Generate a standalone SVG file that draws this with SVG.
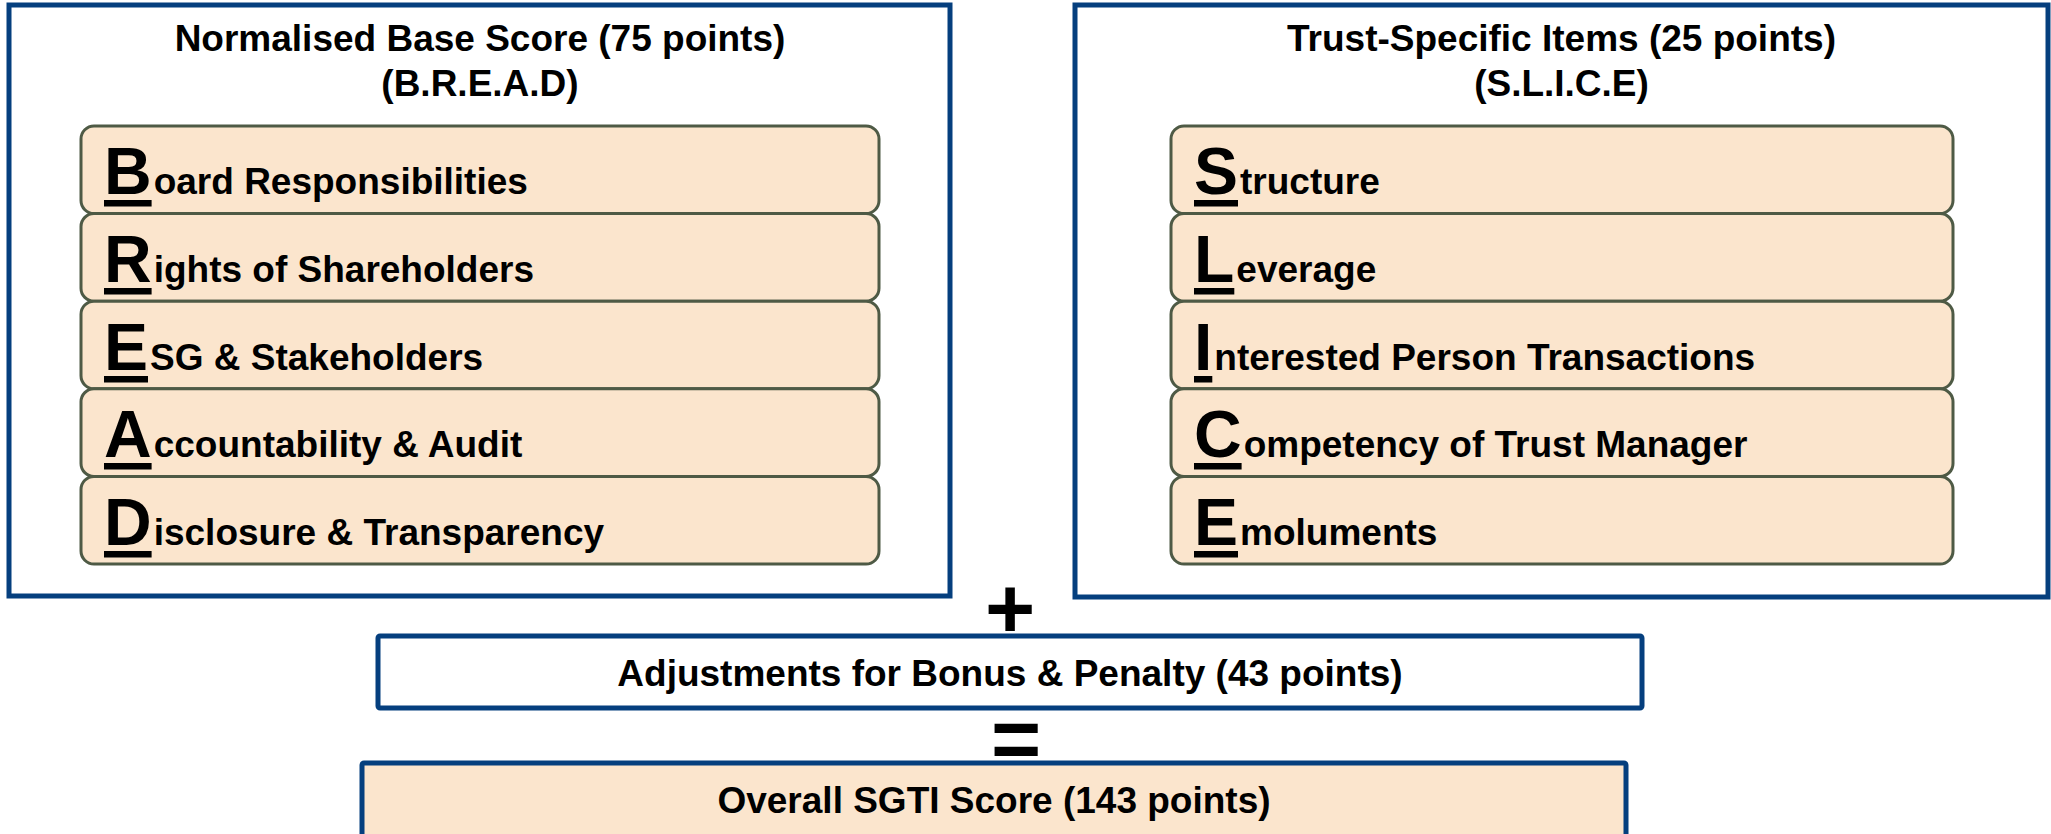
<svg xmlns="http://www.w3.org/2000/svg" width="2051" height="834" viewBox="0 0 2051 834">
<style>
.frame{fill:#ffffff;stroke:#053F7E;stroke-width:5}
.row{fill:#FBE5CD;stroke:#4E5A45;stroke-width:3}
.t{font-family:"Liberation Sans",Arial,sans-serif;font-weight:bold;fill:#000000}
.title{font-size:37px;text-anchor:middle}
.item{font-size:37px}
.big{font-size:66px}
.ul{fill:#000000}
.op{font-family:"Liberation Sans",Arial,sans-serif;font-weight:bold;font-size:86px;text-anchor:middle;fill:#000000}
</style>
<rect width="2051" height="834" fill="#ffffff"/>

<g id="bread">
  <rect class="frame" x="9" y="5" width="941" height="591"/>
  <text class="t title" x="480" y="51">Normalised Base Score (75 points)</text>
  <text class="t title" x="480" y="96">(B.R.E.A.D)</text>
</g>
<g id="bread-b">
  <rect class="row" x="81" y="126" width="798" height="87.6" rx="13"/>
  <text class="t" x="104" y="194"><tspan class="big">B</tspan><tspan class="item" dx="2">oard Responsibilities</tspan></text>
  <rect class="ul" x="104" y="200" width="47.6" height="6.5"/>
</g>
<g id="bread-r">
  <rect class="row" x="81" y="213.6" width="798" height="87.6" rx="13"/>
  <text class="t" x="104" y="282"><tspan class="big">R</tspan><tspan class="item" dx="2">ights of Shareholders</tspan></text>
  <rect class="ul" x="104" y="288" width="47.6" height="6.5"/>
</g>
<g id="bread-e">
  <rect class="row" x="81" y="301.2" width="798" height="87.6" rx="13"/>
  <text class="t" x="104" y="370"><tspan class="big">E</tspan><tspan class="item" dx="2">SG &amp; Stakeholders</tspan></text>
  <rect class="ul" x="104" y="376" width="44" height="6.5"/>
</g>
<g id="bread-a">
  <rect class="row" x="81" y="388.8" width="798" height="87.6" rx="13"/>
  <text class="t" x="104" y="457"><tspan class="big">A</tspan><tspan class="item" dx="2">ccountability &amp; Audit</tspan></text>
  <rect class="ul" x="104" y="463" width="47.6" height="6.5"/>
</g>
<g id="bread-d">
  <rect class="row" x="81" y="476.4" width="798" height="87.6" rx="13"/>
  <text class="t" x="104" y="545"><tspan class="big">D</tspan><tspan class="item" dx="2">isclosure &amp; Transparency</tspan></text>
  <rect class="ul" x="104" y="551" width="47.6" height="6.5"/>
</g>

<g id="slice">
  <rect class="frame" x="1075" y="5" width="973" height="592"/>
  <text class="t title" x="1561.5" y="51">Trust-Specific Items (25 points)</text>
  <text class="t title" x="1561.5" y="96">(S.L.I.C.E)</text>
</g>
<g id="slice-s">
  <rect class="row" x="1171" y="126" width="782" height="87.6" rx="13"/>
  <text class="t" x="1194" y="194"><tspan class="big">S</tspan><tspan class="item" dx="2">tructure</tspan></text>
  <rect class="ul" x="1194" y="200" width="44" height="6.5"/>
</g>
<g id="slice-l">
  <rect class="row" x="1171" y="213.6" width="782" height="87.6" rx="13"/>
  <text class="t" x="1194" y="282"><tspan class="big">L</tspan><tspan class="item" dx="2">everage</tspan></text>
  <rect class="ul" x="1194" y="288" width="40.3" height="6.5"/>
</g>
<g id="slice-i">
  <rect class="row" x="1171" y="301.2" width="782" height="87.6" rx="13"/>
  <text class="t" x="1194" y="370"><tspan class="big">I</tspan><tspan class="item" dx="2">nterested Person Transactions</tspan></text>
  <rect class="ul" x="1194" y="376" width="18.3" height="6.5"/>
</g>
<g id="slice-c">
  <rect class="row" x="1171" y="388.8" width="782" height="87.6" rx="13"/>
  <text class="t" x="1194" y="457"><tspan class="big">C</tspan><tspan class="item" dx="2">ompetency of Trust Manager</tspan></text>
  <rect class="ul" x="1194" y="463" width="47.6" height="6.5"/>
</g>
<g id="slice-e">
  <rect class="row" x="1171" y="476.4" width="782" height="87.6" rx="13"/>
  <text class="t" x="1194" y="545"><tspan class="big">E</tspan><tspan class="item" dx="2">moluments</tspan></text>
  <rect class="ul" x="1194" y="551" width="44" height="6.5"/>
</g>

<g id="adjustments">
  <rect class="frame" x="378" y="636" width="1264" height="72" rx="2"/>
  <text class="t title" x="1010" y="686">Adjustments for Bonus &amp; Penalty (43 points)</text>
</g>

<g id="overall">
  <rect class="frame" x="362" y="763" width="1264" height="110" rx="2" style="fill:#FBE5CD"/>
  <text class="t title" x="994" y="813">Overall SGTI Score (143 points)</text>
</g>

<g id="connectors">
  <text class="op" x="1010" y="638">+</text>
  <text class="op" x="1016" y="768" font-size="82">=</text>
</g>
</svg>
